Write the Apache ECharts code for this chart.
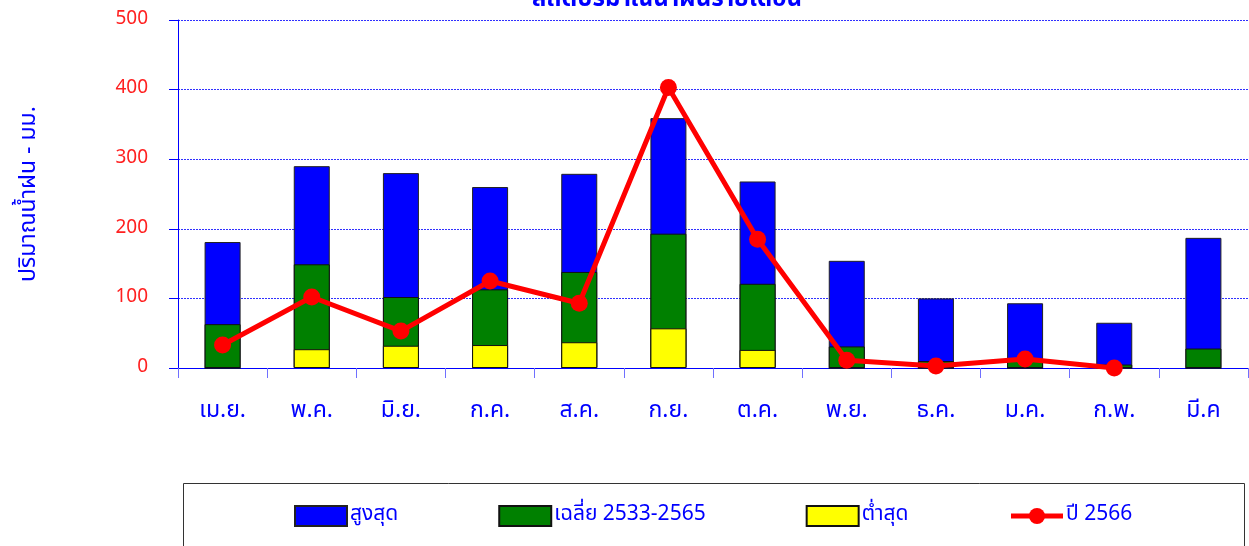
<!DOCTYPE html>
<html><head><meta charset="utf-8">
<script src="https://cdn.jsdelivr.net/npm/echarts@6/dist/echarts.min.js"></script>
<style>html,body{margin:0;padding:0;background:#fff}#c{width:1249px;height:546px}</style>
</head><body><div id="c"></div>
<script>
const months = ['เม.ย.','พ.ค.','มิ.ย.','ก.ค.','ส.ค.','ก.ย.','ต.ค.','พ.ย.','ธ.ค.','ม.ค.','ก.พ.','มี.ค'];
const maxRain = [181, 290, 280, 260, 279, 359, 268, 154, 100, 93, 65, 187];
const avgRain = [63, 149, 102, 113, 138, 193, 121, 31, 10, 12, 5, 28];
const minRain = [0, 27, 32, 33, 37, 57, 26, 0, 0, 0, 0, 0];
const rain2566 = [33, 102, 53, 125, 93, 403, 185, 11, 3, 13, 0, null];
const yTicks = [0, 100, 200, 300, 400, 500];
const FONT = 'Tahoma, "Noto Sans Thai", "Noto Sans", "DejaVu Sans", sans-serif';

const chart = echarts.init(document.getElementById('c'));
chart.setOption({
  animation: false,
  textStyle: {fontFamily: FONT},
  title: {text: 'สถิติปริมาณน้ำฝนรายเดือน', left: 662, top: -16, textAlign: 'center',
    textStyle: {color: '#0000ff', fontSize: 24, fontWeight: 'bold', fontFamily: FONT}},
  grid: {left: 178, right: 1, top: 20, bottom: 178, containLabel: false},
  legend: {
    left: 289, top: 500, itemWidth: 52, itemHeight: 20, itemGap: 100,
    lineStyle: {width: 5},
    textStyle: {color: '#0000ff', fontSize: 21, fontFamily: FONT, padding: [0,0,0,-2]},
    data: [{name: 'สูงสุด', icon: 'rect'}, {name: 'เฉลี่ย 2533-2565', icon: 'rect'},
           {name: 'ต่ำสุด', icon: 'rect'}, {name: 'ปี 2566'}]
  },
  graphic: [{type: 'rect', left: 181, top: 481, shape: {width: 1061, height: 80},
    style: {fill: 'none', stroke: '#333', lineWidth: 1}, silent: true}],
  xAxis: {
    type: 'category', data: months, boundaryGap: true,
    axisLine: {lineStyle: {color: '#0000ff', width: 1}},
    axisTick: {show: true, length: 10, lineStyle: {color: '#7070ff'}},
    axisLabel: {color: '#0000ff', fontSize: 23, margin: 33, fontFamily: FONT}
  },
  yAxis: {
    type: 'value', min: 0, max: 500, interval: 100,
    name: 'ปริมาณน้ำฝน - มม.', nameLocation: 'middle', nameGap: 136, nameRotate: 90,
    nameTextStyle: {color: '#0000ff', fontSize: 23, fontFamily: FONT},
    axisLine: {show: true, lineStyle: {color: '#0000ff', width: 1}},
    axisTick: {show: true, inside: false, length: 9, lineStyle: {color: '#0000ff'}},
    axisLabel: {color: '#ff2020', fontSize: 19, margin: 30, fontFamily: FONT,
      formatter: v => yTicks.includes(v) ? String(v) : ''},
    splitLine: {show: true, lineStyle: {color: '#3030ff', type: [2, 1], width: 1}}
  },
  series: [
    {name: 'สูงสุด', type: 'bar', data: maxRain, barWidth: 36, barGap: '-100%', z: 2,
      itemStyle: {color: '#0000ff', borderColor: '#222', borderWidth: 1}},
    {name: 'เฉลี่ย 2533-2565', type: 'bar', data: avgRain, barWidth: 36, barGap: '-100%', z: 3,
      itemStyle: {color: '#008000', borderColor: '#111', borderWidth: 1}},
    {name: 'ต่ำสุด', type: 'bar', data: minRain, barWidth: 36, barGap: '-100%', z: 4,
      itemStyle: {color: '#ffff00', borderColor: '#111', borderWidth: 1}},
    {name: 'ปี 2566', type: 'line', data: rain2566, z: 10, symbol: 'circle', symbolSize: 17,
      lineStyle: {color: '#ff0000', width: 5}, itemStyle: {color: '#ff0000'}}
  ]
});
</script></body></html>
